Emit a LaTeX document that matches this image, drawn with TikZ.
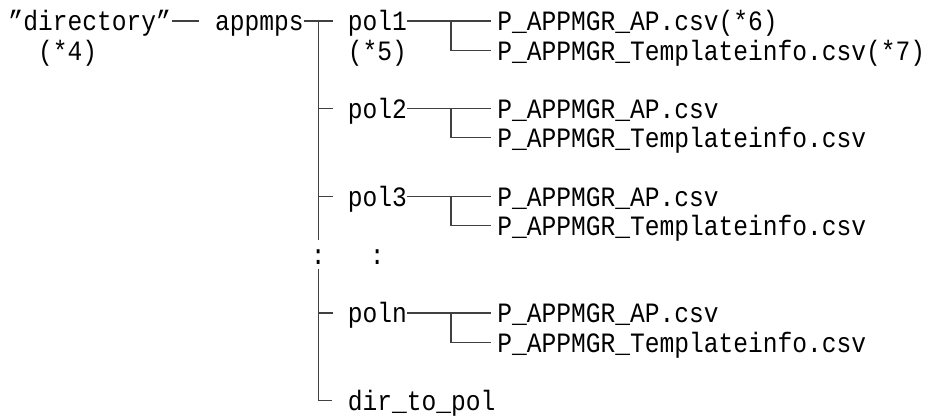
\documentclass[tikz,border=0pt]{standalone}
\usepackage{fontspec}
\newfontfamily\gridfont[FakeStretch=0.878]{Liberation Mono}
\begin{document}
\begin{tikzpicture}[
  txt/.style={anchor=base west, inner sep=0pt, outer sep=0pt,
    font=\gridfont\fontsize{28pt}{28pt}\selectfont},
  dots/.style={txt, anchor=base},
  tree/.style={draw=black!75, line width=1.1pt}
]
\useasboundingbox (0pt,0pt) rectangle (932pt,-417pt);
% character grid: one column = half an em, one row = one line
\begin{scope}[shift={(8.5pt,-21pt)}, x=14.75pt, y=-29.2pt]
  \def\bl{0.34}
  % texts
  \node[txt] (dir)   at (0,\bl)        {”directory”};
  \node[txt] (n4)    at (2,1+\bl)      {(*4)};
  \node[txt] (app)   at (14,\bl)       {appmps};
  \node[txt] (pol1)  at (23,\bl)       {pol1};
  \node[txt] (n5)    at (23,1+\bl)     {(*5)};
  \node[txt] (ap1)   at (33.15,\bl)    {P\_APPMGR\_AP.csv(*6)};
  \node[txt] (tp1)   at (33.15,1+\bl)  {P\_APPMGR\_Templateinfo.csv(*7)};
  \node[txt] (pol2)  at (23,3+\bl)     {pol2};
  \node[txt] (ap2)   at (33.15,3+\bl)  {P\_APPMGR\_AP.csv};
  \node[txt] (tp2)   at (33.15,4+\bl)  {P\_APPMGR\_Templateinfo.csv};
  \node[txt] (pol3)  at (23,6+\bl)     {pol3};
  \node[txt] (ap3)   at (33.15,6+\bl)  {P\_APPMGR\_AP.csv};
  \node[txt] (tp3)   at (33.15,7+\bl)  {P\_APPMGR\_Templateinfo.csv};
  \node[dots] (c1)   at (21,8+\bl)     {:};
  \node[dots] (c2)   at (25,8+\bl)     {:};
  \node[txt] (poln)  at (23,10+\bl)    {poln};
  \node[txt] (apn)   at (33.15,10+\bl) {P\_APPMGR\_AP.csv};
  \node[txt] (tpn)   at (33.15,11+\bl) {P\_APPMGR\_Templateinfo.csv};
  \node[txt] (dtp)   at (23,13+\bl)    {dir\_to\_pol};

  % junction points of the tree
  \coordinate (dashA) at (11.1,0);
  \coordinate (dashB) at (12.9,0);
  \coordinate (rootL) at (20,0);
  \coordinate (root)  at (21,0);
  \coordinate (rootR) at (22,0);
  \coordinate (gapA)  at (21,7.5);
  \coordinate (gapB)  at (21,8.5);
  \coordinate (last)  at (21,13);
  \coordinate (lastR) at (21.95,13);

  % "directory" to appmps
  \draw[tree] (dashA) -- (dashB);
  % appmps trunk, broken around the ellipsis
  \draw[tree] (rootL) -- (rootR);
  \draw[tree] (root) -- (gapA);
  \draw[tree] (gapB) -- (last) -- (lastR);
  \foreach \r in {3,6,10} {
    \draw[tree] (21,\r) -- (22,\r);
  }
  % each pol directory with its two files
  \foreach \r in {0,3,6,10} {
    \coordinate (s\r) at (27,\r);
    \coordinate (j\r) at (30,\r);
    \coordinate (e\r) at (32.7,\r);
    \coordinate (k\r) at (30,\r+1);
    \coordinate (f\r) at (32.7,\r+1);
    \draw[tree] (s\r) -- (e\r);
    \draw[tree] (j\r) -- (k\r) -- (f\r);
  }
\end{scope}
\end{tikzpicture}
\end{document}
